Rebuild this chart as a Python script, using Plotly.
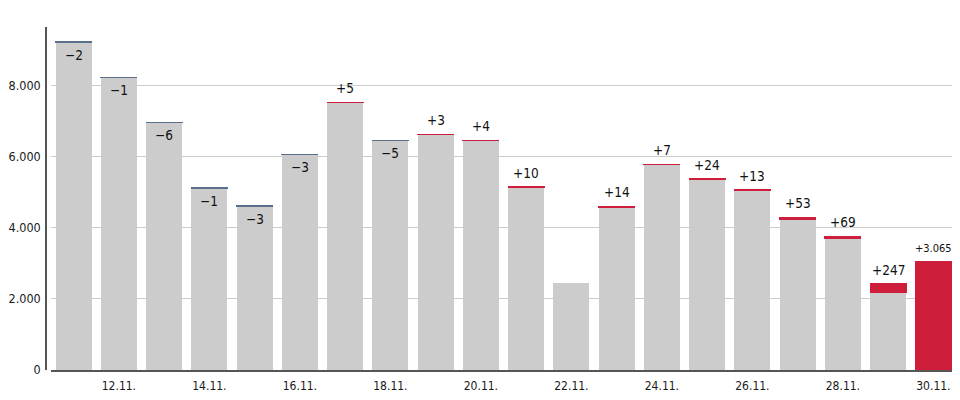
import plotly.graph_objects as go

days = ["11.11.", "12.11.", "13.11.", "14.11.", "15.11.", "16.11.", "17.11.",
        "18.11.", "19.11.", "20.11.", "21.11.", "22.11.", "23.11.", "24.11.",
        "25.11.", "26.11.", "27.11.", "28.11.", "29.11.", "30.11."]
totals = [9240, 8245, 6980, 5125, 4620, 6075, 7540, 6470, 6640, 6470,
          5155, 2450, 4605, 5795, 5390, 5080, 4300, 3765, 2423, 3065]
changes = [-2, -1, -6, -1, -3, -3, 5, -5, 3, 4,
           10, 0, 14, 7, 24, 13, 53, 69, 247, 3065]
tick_days = days[1::2]

GREY = "#cccccc"
RED = "#cf1e3c"
BLUE = "#5a6f8c"
AXIS = "#555555"
FONT = "DejaVu Sans Condensed"

base = [t - abs(c) for t, c in zip(totals, changes)]
seg = [abs(c) for c in changes]
seg_col = [RED if c > 0 else BLUE for c in changes]

fig = go.Figure()
fig.add_trace(go.Bar(x=days, y=base, marker=dict(color=GREY, line=dict(width=0)),
                     hoverinfo="skip"))
fig.add_trace(go.Bar(x=days, y=seg,
                     marker=dict(color=seg_col,
                                 line=dict(color=seg_col, width=[1.2 if c else 0 for c in changes])),
                     hoverinfo="skip"))


def fmt(v):
    s = f"{abs(v):,}".replace(",", ".")
    return ("+" if v > 0 else "\u2212") + s


for d, t, c in zip(days, totals, changes):
    if c == 0:
        continue
    big = abs(c) >= 1000
    if c > 0:
        fig.add_annotation(x=d, y=t, text=fmt(c), showarrow=False, yanchor="bottom",
                           yshift=4, font=dict(family=FONT, size=11 if big else 13.5, color="#111111"))
    else:
        fig.add_annotation(x=d, y=t, text=fmt(c), showarrow=False, yanchor="top",
                           yshift=-3, font=dict(family=FONT, size=13.5, color="#111111"))

fig.update_layout(
    width=952, height=392,
    margin=dict(l=38, r=4, t=19, b=30),
    barmode="stack", bargap=0.205,
    showlegend=False,
    plot_bgcolor="white", paper_bgcolor="white",
    separators=",.",
    xaxis=dict(domain=[5 / 910, 1], type="category", categoryorder="array", categoryarray=days,
               tickmode="array", tickvals=tick_days, ticktext=tick_days, automargin=False,
               showline=True, linecolor=AXIS, linewidth=1.5, ticks="", showgrid=False,
               tickfont=dict(family=FONT, size=12, color="#1a1a1a"), ticklabelstandoff=4),
    yaxis=dict(range=[0, 9660], anchor="free", position=0, tickformat=",d", automargin=False,
               tickvals=[0, 2000, 4000, 6000, 8000],
               showline=True, linecolor=AXIS, linewidth=1.5, ticks="",
               showgrid=True, gridcolor="#cccccc", gridwidth=1, zeroline=False,
               tickfont=dict(family=FONT, size=12.5, color="#1a1a1a"),
               ticklabelstandoff=2),
)

fig.write_html("out.html")
